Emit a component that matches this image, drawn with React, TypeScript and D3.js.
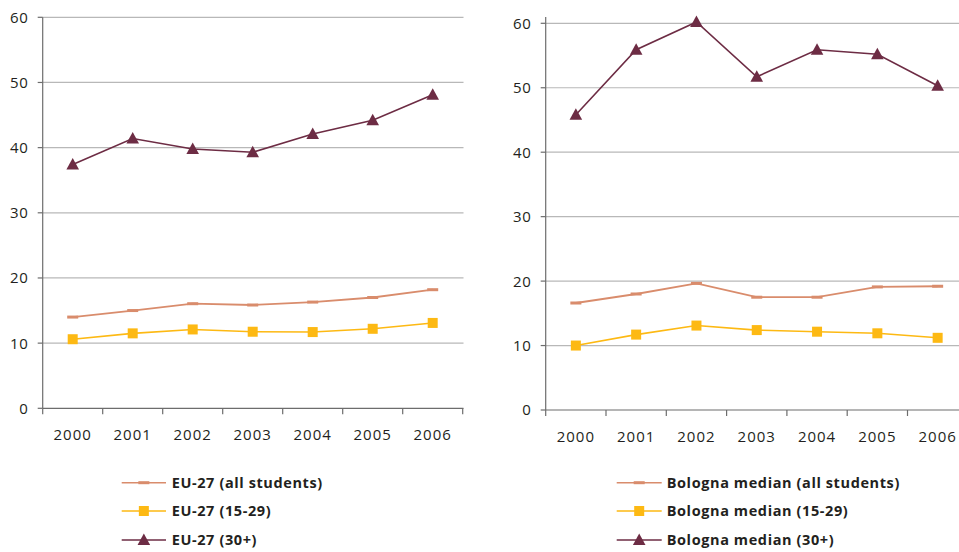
import React from "react";
import * as d3 from "d3";

const years = ["2000", "2001", "2002", "2003", "2004", "2005", "2006"];
const yTicks = [0, 10, 20, 30, 40, 50, 60];

const euAll = [14.0, 15.0, 16.05, 15.85, 16.3, 17.0, 18.2];
const eu1529 = [10.6, 11.5, 12.1, 11.75, 11.7, 12.2, 13.1];
const eu30 = [37.4, 41.4, 39.8, 39.3, 42.1, 44.2, 48.1];

const boAll = [16.6, 18.0, 19.65, 17.5, 17.5, 19.1, 19.2];
const bo1529 = [10.0, 11.7, 13.1, 12.4, 12.15, 11.9, 11.2];
const bo30 = [45.8, 55.9, 60.2, 51.7, 55.9, 55.2, 50.3];

const leftLabels = ["EU-27 (all students)", "EU-27 (15-29)", "EU-27 (30+)"];
const rightLabels = ["Bologna median (all students)", "Bologna median (15-29)", "Bologna median (30+)"];

const C_ALL = "#d98c6c";
const C_1529 = "#fdb913";
const C_30 = "#6d2c44";
const TXT = "#231f20";
const FONT = "'Open Sans', sans-serif";

type PanelProps = {
  x0: number; x1: number; yZero: number; ySixty: number; axisTop: number; gridRight: number;
  series: number[][]; labelBase: number;
};

function Marker({ kind, x, y, color }: { kind: number; x: number; y: number; color: string }) {
  if (kind === 0) return <rect x={x - 5.5} y={y - 1.5} width={11} height={3} fill={color} />;
  if (kind === 1) return <rect x={x - 5} y={y - 5} width={10} height={10} fill={color} />;
  return <path d={`M${x},${y - 6.5} L${x + 6.3},${y + 5} L${x - 6.3},${y + 5} Z`} fill={color} />;
}

function Panel({ x0, x1, yZero, ySixty, axisTop, gridRight, series, labelBase }: PanelProps) {
  const x = d3.scaleBand<string>().domain(years).range([x0, x1]);
  const y = d3.scaleLinear().domain([0, 60]).range([yZero, ySixty]);
  const colors = [C_ALL, C_1529, C_30];
  const line = (vals: number[]) =>
    d3.line<number>().x((_, i) => (x(years[i]) as number) + x.bandwidth() / 2).y((v) => y(v))(vals) as string;
  const tickXs = years.map((yr) => x(yr) as number).concat([x1]);
  return (
    <g>
      {yTicks.filter((t) => t > 0).map((t) => (
        <line key={t} x1={x0} x2={gridRight} y1={y(t)} y2={y(t)} stroke="#b8b8b8" strokeWidth={1.2} />
      ))}
      <line x1={x0} x2={gridRight} y1={y(0)} y2={y(0)} stroke="#6d6d6d" strokeWidth={1.2} />
      <line x1={x0} x2={x0} y1={axisTop} y2={y(0)} stroke="#6d6d6d" strokeWidth={1.2} />
      {yTicks.map((t) => (
        <g key={t}>
          <line x1={x0 - 5} x2={x0} y1={y(t)} y2={y(t)} stroke="#6d6d6d" strokeWidth={1.2} />
          <text x={x0 - 14} y={y(t)} dy="0.36em" textAnchor="end" fontFamily={FONT} fontSize={15} fill={TXT} letterSpacing={0.8}>
            {t}
          </text>
        </g>
      ))}
      {tickXs.map((tx, i) => (
        <line key={i} x1={tx} x2={tx} y1={y(0)} y2={y(0) + 6} stroke="#6d6d6d" strokeWidth={1.2} />
      ))}
      {years.map((yr) => (
        <text key={yr} x={(x(yr) as number) + x.bandwidth() / 2} y={labelBase} textAnchor="middle" fontFamily={FONT} fontSize={15} fill={TXT} letterSpacing={1}>
          {yr}
        </text>
      ))}
      {series.map((s, k) => (
        <g key={k}>
          <path d={line(s)} fill="none" stroke={colors[k]} strokeWidth={k === 0 ? 1.8 : 1.6} />
          {s.map((v, i) => (
            <Marker key={i} kind={k} x={(x(years[i]) as number) + x.bandwidth() / 2} y={y(v)} color={colors[k]} />
          ))}
        </g>
      ))}
    </g>
  );
}

function Legend({ lx0, lx1, tx, labels }: { lx0: number; lx1: number; tx: number; labels: string[] }) {
  const rows = [482.7, 511, 540];
  const colors = [C_ALL, C_1529, C_30];
  return (
    <g>
      {labels.map((lab, k) => (
        <g key={k}>
          <line x1={lx0} x2={lx1} y1={rows[k]} y2={rows[k]} stroke={colors[k]} strokeWidth={1.6} />
          <Marker kind={k} x={(lx0 + lx1) / 2} y={rows[k]} color={colors[k]} />
          <text x={tx} y={rows[k]} dy="0.36em" fontFamily={FONT} fontWeight="bold" fontSize={14.5} fill={TXT} letterSpacing={0.6}>
            {lab}
          </text>
        </g>
      ))}
    </g>
  );
}

export default function App() {
  return (
    <svg width={959} height={552} style={{ position: "absolute", left: 0, top: 0, background: "#fff" }}>
      <rect width={959} height={552} fill="#fff" />
      <Panel x0={42.7} x1={462.7} yZero={408.3} ySixty={17.3} axisTop={17.3} gridRight={463.5}
        series={[euAll, eu1529, eu30]} labelBase={440} />
      <Panel x0={545.7} x1={967.8} yZero={410} ySixty={23.3} axisTop={17} gridRight={962}
        series={[boAll, bo1529, bo30]} labelBase={441.5} />
      <Legend lx0={121.7} lx1={166} tx={171.7} labels={leftLabels} />
      <Legend lx0={616.7} lx1={661.7} tx={666.7} labels={rightLabels} />
    </svg>
  );
}
